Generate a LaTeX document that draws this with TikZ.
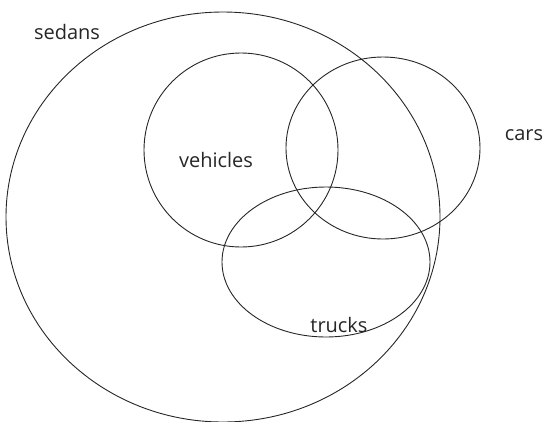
\documentclass[tikz,border=0pt]{standalone}
\usepackage{fontspec}
\setmainfont{Open Sans}
\begin{document}
\begin{tikzpicture}[x=1pt,y=-1pt,
  ring/.style={draw=black!85,line width=0.9pt},
  lbl/.style={font=\fontsize{20}{24}\selectfont,text=black!85,inner sep=0pt}]
\useasboundingbox (0,0) rectangle (544,421);
\draw[ring] (223,217) ellipse [x radius=217, y radius=205];
\draw[ring] (241,150) ellipse [x radius=97, y radius=97];
\draw[ring] (383,148) ellipse [x radius=97, y radius=91];
\draw[ring] (326,262) ellipse [x radius=104, y radius=75];
\node[lbl] (sedans) at (67,32) {sedans};
\node[lbl] (vehicles) at (216,160) {vehicles};
\node[lbl] (cars) at (524,135) {cars};
\node[lbl] (trucks) at (339,325) {trucks};
\end{tikzpicture}
\end{document}
